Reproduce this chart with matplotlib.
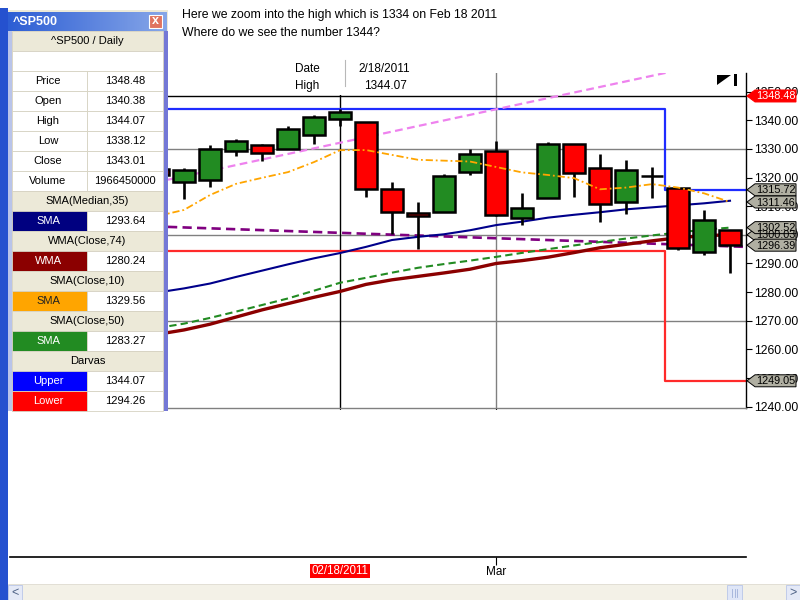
import matplotlib
matplotlib.use("Agg")
import matplotlib.pyplot as plt
from matplotlib.patches import Rectangle, Polygon
import numpy as np

plt.rcParams["font.family"] = ["Liberation Sans", "DejaVu Sans"]

# ---------------- data ----------------
dates = ["02/09/2011", "02/10/2011", "02/11/2011", "02/14/2011", "02/15/2011",
         "02/16/2011", "02/17/2011", "02/18/2011", "02/22/2011", "02/23/2011",
         "02/24/2011", "02/25/2011", "02/28/2011", "03/01/2011", "03/02/2011",
         "03/03/2011", "03/04/2011", "03/07/2011", "03/08/2011", "03/09/2011",
         "03/10/2011", "03/11/2011", "03/14/2011"]
opens = [1323.0, 1318.5, 1319.2, 1329.3, 1331.4, 1330.0, 1334.9, 1340.38,
         1339.4, 1316.1, 1307.6, 1308.0, 1322.0, 1329.4, 1305.9, 1312.9,
         1331.6, 1323.5, 1311.5, 1320.5, 1316.5, 1294.0, 1301.8]
highs = [1324.5, 1323.3, 1331.4, 1333.5, 1331.8, 1338.0, 1341.9, 1344.07,
         1339.4, 1318.5, 1311.4, 1321.3, 1330.0, 1332.8, 1314.5, 1332.5,
         1331.6, 1328.2, 1326.0, 1323.7, 1316.5, 1308.8, 1301.8]
lows = [1318.5, 1312.5, 1316.7, 1327.5, 1325.8, 1329.8, 1331.7, 1338.12,
        1313.1, 1300.3, 1294.9, 1308.0, 1321.0, 1306.5, 1303.4, 1312.9,
        1313.3, 1304.6, 1307.4, 1313.0, 1294.8, 1293.0, 1286.8]
closes = [1321.0, 1322.6, 1330.0, 1332.8, 1328.6, 1337.0, 1341.2, 1343.01,
          1316.0, 1308.0, 1306.6, 1320.7, 1328.1, 1306.8, 1309.3, 1331.6,
          1321.6, 1310.8, 1322.5, 1320.7, 1295.4, 1305.1, 1296.39]
volume_sel = 1966450000
cursor_price = 1348.48

sma_median35 = [1279.9, 1281.3, 1283.0, 1285.3, 1287.5, 1289.7, 1291.8, 1293.64,
                1295.8, 1298.2, 1299.3, 1300.2, 1301.6, 1303.4, 1304.6, 1306.0,
                1307.0, 1307.9, 1308.9, 1309.6, 1310.3, 1311.0, 1311.9]
wma_close74 = [1265.3, 1266.8, 1268.8, 1271.3, 1273.8, 1276.0, 1278.2, 1280.24,
               1282.7, 1284.3, 1285.5, 1286.7, 1288.0, 1290.0, 1291.0, 1292.2,
               1293.8, 1295.5, 1296.7, 1297.9, 1299.0, 1299.7, 1300.03]
sma_close10 = [1306.6, 1308.7, 1313.9, 1317.8, 1319.9, 1321.9, 1325.4, 1329.56,
               1329.6, 1327.9, 1326.2, 1325.9, 1325.6, 1323.7, 1321.8, 1320.9,
               1319.8, 1315.9, 1316.5, 1317.7, 1316.5, 1314.5, 1311.46]
sma_close50 = [1267.5, 1269.0, 1271.0, 1273.2, 1275.5, 1277.8, 1280.5, 1283.27,
               1285.0, 1286.8, 1288.5, 1289.8, 1291.0, 1292.3, 1293.7, 1295.0,
               1296.3, 1297.5, 1298.7, 1299.8, 1300.8, 1301.8, 1302.52]

darvas_upper = [1344.07, 1315.72]
darvas_lower = [1294.26, 1249.05]
darvas_break = 19.5

trend_up_idx = [0, 19.5]
trend_up_val = [1318.5, 1356.5]
trend_down_idx = [0, 22.6]
trend_down_val = [1302.9, 1295.8]

sel = 7          # selected bar (crosshair)
mar_idx = 13     # first bar of March

# ---------------- figure ----------------
W, H = 800, 600
fig = plt.figure(figsize=(8, 6), dpi=100)
fig.patch.set_facecolor("white")


def frame(x0, y0, x1, y1):
    return [x0 / W, 1 - y1 / H, (x1 - x0) / W, (y1 - y0) / H]


BAR0, STEP = 158.0, 26.0   # pixel centre of bar 0, bar spacing
x_lo = (168 - BAR0) / STEP
x_hi = (746 - BAR0) / STEP

ax = fig.add_axes(frame(168, 73, 746, 408))
ax.set_xlim(x_lo, x_hi)
ax.set_ylim(1239.55, 1356.5)
ax.set_facecolor("white")

idx = np.arange(len(closes))
grid_c = "#808080"
for lvl in [1270, 1300, 1330]:
    ax.axhline(lvl, color=grid_c, lw=1.0, zorder=1)
ax.axvline(mar_idx, color=grid_c, lw=1.0, zorder=1)
ax.axvline(sel, color="black", lw=1.0, zorder=1)
ax.axhline(cursor_price, color="black", lw=1.0, zorder=1)

# Darvas box
ax.plot([x_lo, darvas_break, darvas_break, x_hi],
        [darvas_upper[0], darvas_upper[0], darvas_upper[1], darvas_upper[1]],
        color="#1f2cff", lw=1.6, zorder=2)
ax.plot([x_lo, darvas_break, darvas_break, x_hi],
        [darvas_lower[0], darvas_lower[0], darvas_lower[1], darvas_lower[1]],
        color="#ff2a2a", lw=1.6, zorder=2)

# trend lines
tu = np.polyfit(trend_up_idx, trend_up_val, 1)
td = np.polyfit(trend_down_idx, trend_down_val, 1)
xs = np.array([x_lo, x_hi])
ax.plot(xs, np.polyval(tu, xs), color="#ee82ee", lw=1.6,
        ls=(0, (3.5, 2)), zorder=2)
ax.plot(xs, np.polyval(td, xs), color="#800080", lw=1.9,
        ls=(0, (3.5, 2)), zorder=2)

# moving averages
ax.plot(idx, sma_median35, color="#00008b", lw=1.5, zorder=3)
ax.plot(idx, sma_close50, color="#228b22", lw=1.5, ls=(0, (3.5, 2)), zorder=3)
ax.plot(idx, wma_close74, color="#8b0000", lw=2.4, zorder=3)

# candles
o = np.array(opens); c = np.array(closes)
up = c >= o
ax.vlines(idx, lows, highs, color="black", lw=1.9, zorder=4)
ax.bar(idx, np.maximum(np.abs(c - o), 0.05), bottom=np.minimum(o, c),
       width=0.87, color=np.where(up, "#228b22", "#ff0000"),
       edgecolor="black", linewidth=1.8, zorder=5)

ax.plot(idx, sma_close10, color="#ffa500", lw=1.3,
        ls=(0, (4, 1.6, 1, 1.6)), zorder=6)

for s in ["left", "top"]:
    ax.spines[s].set_visible(False)
ax.spines["right"].set_color("black")
ax.spines["right"].set_linewidth(1.0)
ax.spines["bottom"].set_color(grid_c)
ax.spines["bottom"].set_linewidth(1.0)

ax.yaxis.tick_right()
ax.set_yticks(np.arange(1240, 1351, 10))
ax.set_yticklabels([f"{v:.2f}" for v in np.arange(1240, 1351, 10)])
ax.tick_params(axis="y", direction="out", length=4.5, width=0.8, pad=1.0,
               labelsize=8.8, colors="black")
ax.set_xticks([sel, mar_idx])
ax.tick_params(axis="x", direction="out", length=4, width=0.8,
               labelbottom=False)
ax.xaxis.get_major_ticks()[1].tick1line.set_color(grid_c)

# time axis panel
tax = fig.add_axes(frame(10, 410, 746, 557))
tax.set_xlim((10 - BAR0) / STEP, x_hi)
tax.set_ylim(0, 1)
for s in ["left", "top", "right"]:
    tax.spines[s].set_visible(False)
tax.spines["bottom"].set_linewidth(1.2)
tax.set_yticks([])
tax.set_xticks([mar_idx])
tax.set_xticklabels(["Mar"])
tax.tick_params(axis="x", length=5.5, width=0.8, pad=1, labelsize=8.5)
tax.annotate(dates[sel], xy=(sel, 0), xycoords=("data", "axes fraction"),
             xytext=(0, -14), textcoords="offset pixels", ha="center",
             va="center", color="white", fontsize=8.3,
             bbox=dict(boxstyle="square,pad=0.12", fc="#ff0000", ec="none"))

# ---------------- overlay (window chrome, legend panel, tags) -----------
ov = fig.add_axes([0, 0, 1, 1], zorder=10)
ov.set_xlim(0, W)
ov.set_ylim(H, 0)
ov.axis("off")
ov.patch.set_alpha(0)


def rect(x0, y0, x1, y1, fc, ec="none", lw=0.0, z=1):
    ov.add_patch(Rectangle((x0, y0), x1 - x0, y1 - y0, fc=fc, ec=ec, lw=lw,
                           zorder=z))


# notes
ov.text(182, 15, "Here we zoom into the high which is 1334 on Feb 18 2011",
        fontsize=8.85, va="center", ha="left")
ov.text(182, 33, "Where do we see the number 1344?", fontsize=8.85,
        va="center", ha="left")

# data window
rect(290, 58, 420, 94.5, "white")
ov.plot([345, 345], [60, 86], color="#b8b8b8", lw=0.8)
ov.text(320, 69, "Date", fontsize=8.5, ha="right", va="center")
m, d, y = dates[sel].split("/")
ov.text(358, 69, f"{int(m)}/{int(d)}/{y}", fontsize=8.5, ha="left",
        va="center")
ov.text(319, 86, "High", fontsize=8.5, ha="right", va="center")
ov.text(364, 86, f"{highs[sel]:.2f}", fontsize=8.5, ha="left", va="center")

# go-to-end icon
ov.add_patch(Polygon([(717, 75), (731, 75), (717, 85)], closed=True,
                     fc="black", ec="none"))
rect(734, 74, 737, 86, "black")

# right-edge value tags
to_px = ax.transData


def ypix(v):
    return H - to_px.transform((x_hi, v))[1]


def tag(v, fc, tc, ec="black"):
    y = ypix(v)
    pts = [(747, y), (755, y - 6), (796, y - 6), (796, y + 6), (755, y + 6)]
    ov.add_patch(Polygon(pts, closed=True, fc=fc, ec=ec, lw=0.7, zorder=5))
    ov.text(756, y + 0.5, f"{v:.2f}", fontsize=7.8, color=tc, va="center",
            ha="left", zorder=6)


tag(wma_close74[-1], "#b0afa2", "black")
tag(darvas_upper[1], "#b0afa2", "black")
tag(sma_close10[-1], "#b0afa2", "black")
tag(sma_close50[-1], "#b0afa2", "black")
tag(closes[-1], "#b0afa2", "black")
tag(darvas_lower[1], "#b0afa2", "black")
tag(cursor_price, "#ff0000", "white", ec="#ff0000")

# left application edge
rect(0, 8, 8, 600, "#2551cf")

# indicator window
rect(8, 10, 168, 411, "#ece9d8")
grad = np.linspace(0, 1, 64)[None, :]
ov.imshow(grad, extent=[8, 167, 31, 12], aspect="auto", zorder=2,
          cmap=matplotlib.colors.LinearSegmentedColormap.from_list(
              "tb", ["#2d5ed4", "#86a6e8"]))
ov.set_xlim(0, W); ov.set_ylim(H, 0)
ov.text(13, 22, "^SP500", color="white", fontsize=9, fontweight="bold",
        va="center", ha="left", zorder=3)
rect(149, 15, 162, 28, "#e0735f", ec="white", lw=0.8, z=3)
ov.text(155.5, 21.5, "x", color="white", fontsize=9, fontweight="bold",
        ha="center", va="center", zorder=4)
rect(8, 31, 12, 411, "#b9c4ea", z=2)
rect(163, 31, 168, 411, "#7478d6", z=2)

panel_rows = [
    ("hdr", "^SP500 / Daily"),
    ("blank",),
    ("kv", "Price", f"{cursor_price:.2f}"),
    ("kv", "Open", f"{opens[sel]:.2f}"),
    ("kv", "High", f"{highs[sel]:.2f}"),
    ("kv", "Low", f"{lows[sel]:.2f}"),
    ("kv", "Close", f"{closes[sel]:.2f}"),
    ("kv", "Volume", f"{volume_sel}"),
    ("hdr", "SMA(Median,35)"),
    ("ind", "SMA", f"{sma_median35[sel]:.2f}", "#000080", "white"),
    ("hdr", "WMA(Close,74)"),
    ("ind", "WMA", f"{wma_close74[sel]:.2f}", "#8b0000", "white"),
    ("hdr", "SMA(Close,10)"),
    ("ind", "SMA", f"{sma_close10[sel]:.2f}", "#ffa500", "#222222"),
    ("hdr", "SMA(Close,50)"),
    ("ind", "SMA", f"{sma_close50[sel]:.2f}", "#228b22", "white"),
    ("hdr", "Darvas"),
    ("ind", "Upper", f"{darvas_upper[0]:.2f}", "#0000ff", "white"),
    ("ind", "Lower", f"{darvas_lower[0]:.2f}", "#ff0000", "white"),
]
fs = 8.0
for k, row in enumerate(panel_rows):
    y0 = 31 + 20 * k
    y1 = y0 + 20
    yc = y0 + 10.5
    kind = row[0]
    if kind == "hdr":
        rect(12, y0, 163, y1, "#ece9d8", ec="#d6d2c2", lw=0.6, z=2)
        ov.text(87.5, yc, row[1], fontsize=fs, ha="center", va="center",
                zorder=3)
    elif kind == "blank":
        rect(12, y0, 163, y1, "white", ec="#d6d2c2", lw=0.6, z=2)
    elif kind == "kv":
        rect(12, y0, 87, y1, "white", ec="#d6d2c2", lw=0.6, z=2)
        rect(87, y0, 163, y1, "white", ec="#d6d2c2", lw=0.6, z=2)
        ov.text(48, yc, row[1], fontsize=fs, ha="center", va="center",
                zorder=3)
        ov.text(125, yc, row[2], fontsize=fs, ha="center", va="center",
                zorder=3)
    else:
        rect(12, y0, 87, y1, row[3], ec="#d6d2c2", lw=0.6, z=2)
        rect(87, y0, 163, y1, "white", ec="#d6d2c2", lw=0.6, z=2)
        ov.text(48, yc, row[1], fontsize=fs, ha="center", va="center",
                color=row[4], zorder=3)
        ov.text(125, yc, row[2], fontsize=fs, ha="center", va="center",
                zorder=3)

# horizontal scroll bar
rect(8, 584, 800, 600, "#f3f1e7", ec="#dedbd0", lw=0.6)
rect(8, 585, 22, 600, "#e4e9f7", ec="#b9c6e8", lw=0.6)
ov.text(15, 592.5, "<", fontsize=9, ha="center", va="center", color="#4d6185")
rect(727, 585, 742, 600, "#dfe6f7", ec="#b9c6e8", lw=0.6)
for xx in [732, 734.5, 737]:
    ov.plot([xx, xx], [589, 597], color="#9fb0d8", lw=0.6)
rect(786, 585, 800, 600, "#e4e9f7", ec="#b9c6e8", lw=0.6)
ov.text(793, 592.5, ">", fontsize=9, ha="center", va="center", color="#4d6185")

fig.savefig("out.png", dpi=100, facecolor="white")
